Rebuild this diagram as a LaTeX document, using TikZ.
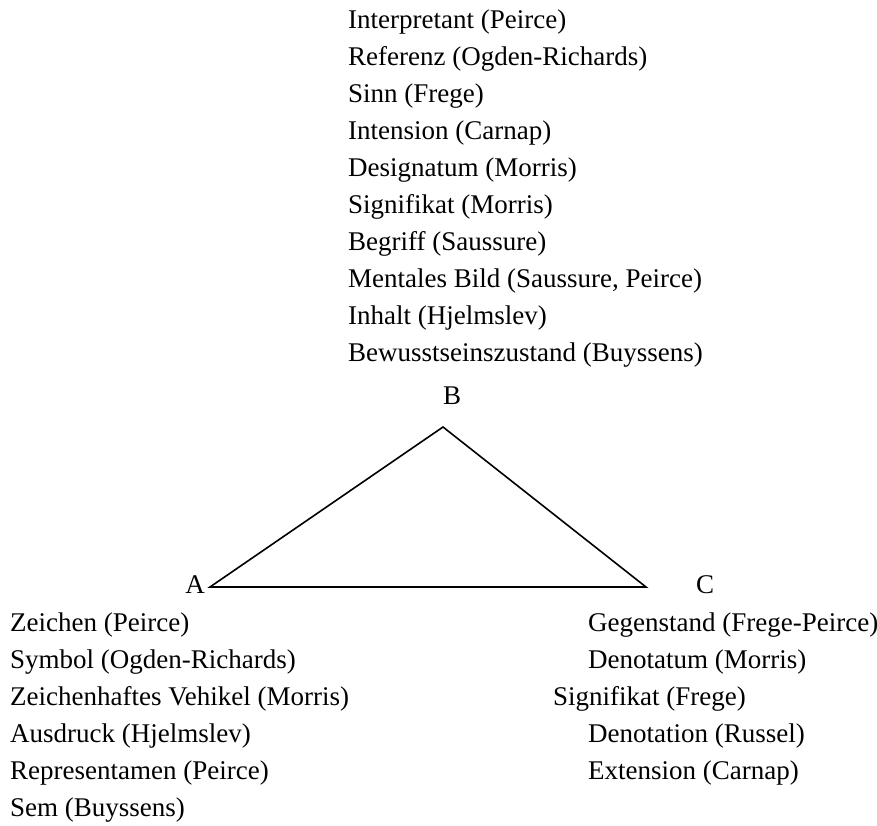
\documentclass[tikz,border=0pt]{standalone}
\usepackage{fontspec}
\setmainfont{Liberation Serif}
\begin{document}
\begin{tikzpicture}[x=1pt,y=1pt,
  lbl/.style={anchor=base west,inner sep=0pt,font=\fontsize{27}{37}\selectfont},
  vlbl/.style={anchor=base,inner sep=0pt,font=\fontsize{27}{37}\selectfont},
  edge/.style={line width=1.6pt,line join=miter}]
\useasboundingbox (0,0) rectangle (877,825);
% vertices
\coordinate (A) at (210,238);
\coordinate (B) at (443,398);
\coordinate (C) at (646,238);
\draw[edge] (A) -- (B) -- (C) -- cycle;
% vertex labels
\node[vlbl] (la) at (195,232) {A};
\node[vlbl] (lb) at (452,420) {B};
\node[vlbl] (lc) at (705,232) {C};
% top block
\node[lbl] (t1) at (348,796) {Interpretant (Peirce)};
\node[lbl] (t2) at (348,759) {Referenz (Ogden-Richards)};
\node[lbl] (t3) at (348,722) {Sinn (Frege)};
\node[lbl] (t4) at (348,685) {Intension (Carnap)};
\node[lbl] (t5) at (348,648) {Designatum (Morris)};
\node[lbl] (t6) at (348,611) {Signifikat (Morris)};
\node[lbl] (t7) at (348,574) {Begriff (Saussure)};
\node[lbl] (t8) at (348,537) {Mentales Bild (Saussure, Peirce)};
\node[lbl] (t9) at (348,500) {Inhalt (Hjelmslev)};
\node[lbl] (t10) at (348,463) {Bewusstseinszustand (Buyssens)};
% bottom left block
\node[lbl] (l1) at (10,194) {Zeichen (Peirce)};
\node[lbl] (l2) at (10,157) {Symbol (Ogden-Richards)};
\node[lbl] (l3) at (10,120) {Zeichenhaftes Vehikel (Morris)};
\node[lbl] (l4) at (10,83) {Ausdruck (Hjelmslev)};
\node[lbl] (l5) at (10,46) {Representamen (Peirce)};
\node[lbl] (l6) at (10,9) {Sem (Buyssens)};
% bottom right block
\node[lbl] (r1) at (588,194) {Gegenstand (Frege-Peirce)};
\node[lbl] (r2) at (588,157) {Denotatum (Morris)};
\node[lbl] (r3) at (553,120) {Signifikat (Frege)};
\node[lbl] (r4) at (588,83) {Denotation (Russel)};
\node[lbl] (r5) at (588,46) {Extension (Carnap)};
\end{tikzpicture}
\end{document}
